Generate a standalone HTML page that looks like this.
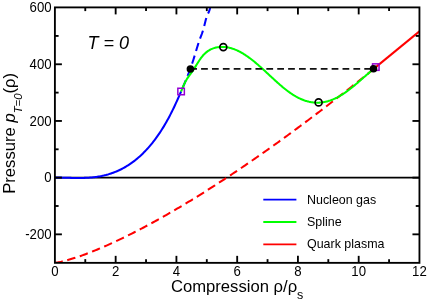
<!DOCTYPE html>
<html><head><meta charset="utf-8"><title>Pressure vs compression</title>
<style>
html,body{margin:0;padding:0;background:#fff;}
body{width:429px;height:301px;overflow:hidden;}
svg{display:block;font-family:"Liberation Sans",sans-serif;will-change:transform;}
text{fill:#000;}
</style></head><body>
<svg width="429" height="301" viewBox="0 0 429 301">
<defs><clipPath id="plot"><rect x="54.9" y="7.4" width="364.55" height="255.45000000000002"/></clipPath></defs>
<rect width="429" height="301" fill="#fff"/>
<g clip-path="url(#plot)" fill="none">
<!-- zero line -->
<line x1="54.9" y1="177.55" x2="419.45" y2="177.55" stroke="#000" stroke-width="1.7"/>
<!-- curves -->
<path d="M54.90,262.73 L56.51,262.56 L58.13,262.30 L59.74,262.00 L61.35,261.66 L62.96,261.28 L64.58,260.89 L66.19,260.47 L67.80,260.03 L69.41,259.57 L71.03,259.09 L72.64,258.60 L74.25,258.09 L75.86,257.57 L77.48,257.03 L79.09,256.48 L80.70,255.92 L82.31,255.35 L83.93,254.76 L85.54,254.17 L87.15,253.56 L88.76,252.95 L90.38,252.32 L91.99,251.69 L93.60,251.04 L95.21,250.39 L96.83,249.73 L98.44,249.06 L100.05,248.38 L101.66,247.69 L103.28,247.00 L104.89,246.30 L106.50,245.59 L108.11,244.87 L109.73,244.15 L111.34,243.42 L112.95,242.68 L114.56,241.93 L116.18,241.18 L117.79,240.42 L119.40,239.66 L121.02,238.89 L122.63,238.11 L124.24,237.32 L125.85,236.54 L127.47,235.74 L129.08,234.94 L130.69,234.13 L132.30,233.32 L133.92,232.50 L135.53,231.67 L137.14,230.84 L138.75,230.01 L140.37,229.17 L141.98,228.32 L143.59,227.47 L145.20,226.62 L146.82,225.75 L148.43,224.89 L150.04,224.02 L151.65,223.14 L153.27,222.26 L154.88,221.37 L156.49,220.48 L158.10,219.59 L159.72,218.69 L161.33,217.78 L162.94,216.87 L164.55,215.96 L166.17,215.04 L167.78,214.12 L169.39,213.19 L171.00,212.26 L172.62,211.33 L174.23,210.39 L175.84,209.44 L177.45,208.49 L179.07,207.54 L180.68,206.59 L182.29,205.62 L183.91,204.66 L185.52,203.69 L187.13,202.72 L188.74,201.74 L190.36,200.76 L191.97,199.78 L193.58,198.79 L195.19,197.80 L196.81,196.80 L198.42,195.80 L200.03,194.80 L201.64,193.79 L203.26,192.78 L204.87,191.77 L206.48,190.75 L208.09,189.73 L209.71,188.70 L211.32,187.67 L212.93,186.64 L214.54,185.61 L216.16,184.57 L217.77,183.53 L219.38,182.48 L220.99,181.43 L222.61,180.38 L224.22,179.32 L225.83,178.26 L227.44,177.20 L229.06,176.13 L230.67,175.06 L232.28,173.99 L233.89,172.92 L235.51,171.84 L237.12,170.75 L238.73,169.67 L240.34,168.58 L241.96,167.49 L243.57,166.39 L245.18,165.30 L246.79,164.19 L248.41,163.09 L250.02,161.98 L251.63,160.87 L253.25,159.76 L254.86,158.64 L256.47,157.52 L258.08,156.40 L259.70,155.28 L261.31,154.15 L262.92,153.02 L264.53,151.88 L266.15,150.75 L267.76,149.61 L269.37,148.46 L270.98,147.32 L272.60,146.17 L274.21,145.02 L275.82,143.87 L277.43,142.71 L279.05,141.55 L280.66,140.39 L282.27,139.22 L283.88,138.05 L285.50,136.88 L287.11,135.71 L288.72,134.53 L290.33,133.36 L291.95,132.18 L293.56,130.99 L295.17,129.80 L296.78,128.62 L298.40,127.42 L300.01,126.23 L301.62,125.03 L303.23,123.83 L304.85,122.63 L306.46,121.42 L308.07,120.22 L309.68,119.01 L311.30,117.80 L312.91,116.58 L314.52,115.36 L316.14,114.14 L317.75,112.92 L319.36,111.69 L320.97,110.47 L322.59,109.24 L324.20,108.00 L325.81,106.77 L327.42,105.53 L329.04,104.29 L330.65,103.05 L332.26,101.81 L333.87,100.56 L335.49,99.31 L337.10,98.06 L338.71,96.80 L340.32,95.55 L341.94,94.29 L343.55,93.03 L345.16,91.76 L346.77,90.50 L348.39,89.23 L350.00,87.96 L351.61,86.69 L353.22,85.41 L354.84,84.13 L356.45,82.85 L358.06,81.57 L359.67,80.29 L361.29,79.00 L362.90,77.71 L364.51,76.42 L366.12,75.13 L367.74,73.83 L369.35,72.53 L370.96,71.23 L372.57,69.93 L374.19,68.63 L375.80,67.32" stroke="#ff0000" stroke-width="2.05" stroke-dasharray="8.5 4.65" stroke-dashoffset="0.55"/>
<path d="M181.10,91.50 L181.59,90.35 L182.09,89.20 L182.58,88.03 L183.08,86.87 L183.57,85.70 L184.07,84.52 L184.56,83.33 L185.06,82.14 L185.55,80.94 L186.05,79.73 L186.54,78.51 L187.04,77.28 L187.53,76.04 L188.03,74.78 L188.52,73.51 L189.02,72.22 L189.51,70.91 L190.01,69.58 L190.50,68.23 L191.00,66.85 L191.49,65.45 L191.99,64.01 L192.48,62.54 L192.98,61.04 L193.47,59.50 L193.97,57.92 L194.46,56.32 L194.96,54.69 L195.45,53.04 L195.95,51.37 L196.44,49.71 L196.94,48.05 L197.43,46.43 L197.93,44.84 L198.42,43.30 L198.92,41.82 L199.41,40.40 L199.91,39.04 L200.40,37.72 L200.90,36.42 L201.39,35.11 L201.89,33.75 L202.38,32.31 L202.88,30.77 L203.37,29.10 L203.87,27.30 L204.36,25.39 L204.86,23.43 L205.35,21.47 L205.85,19.59 L206.34,17.85 L206.84,16.32 L207.33,15.02 L207.83,13.92 L208.32,12.94 L208.82,11.96 L209.31,10.73 L209.81,8.95 L210.30,6.17" stroke="#0000ff" stroke-width="2.05" stroke-dasharray="8.4 4.75" stroke-dashoffset="9.44"/>
<path d="M54.90,177.65 L55.96,177.63 L57.02,177.62 L58.08,177.62 L59.14,177.62 L60.20,177.63 L61.26,177.64 L62.32,177.66 L63.38,177.68 L64.44,177.70 L65.51,177.73 L66.57,177.76 L67.63,177.79 L68.69,177.81 L69.75,177.84 L70.81,177.87 L71.87,177.90 L72.93,177.92 L73.99,177.94 L75.05,177.96 L76.11,177.97 L77.17,177.98 L78.23,177.99 L79.29,177.99 L80.35,177.98 L81.41,177.97 L82.47,177.95 L83.53,177.93 L84.59,177.89 L85.65,177.85 L86.72,177.80 L87.78,177.75 L88.84,177.68 L89.90,177.60 L90.96,177.51 L92.02,177.42 L93.08,177.31 L94.14,177.19 L95.20,177.06 L96.26,176.91 L97.32,176.76 L98.38,176.59 L99.44,176.41 L100.50,176.21 L101.56,176.01 L102.62,175.78 L103.68,175.55 L104.74,175.29 L105.80,175.03 L106.86,174.74 L107.93,174.45 L108.99,174.13 L110.05,173.80 L111.11,173.45 L112.17,173.09 L113.23,172.71 L114.29,172.31 L115.35,171.89 L116.41,171.45 L117.47,170.99 L118.53,170.52 L119.59,170.02 L120.65,169.51 L121.71,168.97 L122.77,168.42 L123.83,167.84 L124.89,167.24 L125.95,166.62 L127.01,165.98 L128.07,165.32 L129.14,164.63 L130.20,163.92 L131.26,163.18 L132.32,162.42 L133.38,161.64 L134.44,160.83 L135.50,160.00 L136.56,159.14 L137.62,158.25 L138.68,157.34 L139.74,156.39 L140.80,155.43 L141.86,154.43 L142.92,153.40 L143.98,152.35 L145.04,151.26 L146.10,150.15 L147.16,149.00 L148.22,147.82 L149.28,146.61 L150.35,145.37 L151.41,144.09 L152.47,142.78 L153.53,141.44 L154.59,140.05 L155.65,138.64 L156.71,137.18 L157.77,135.69 L158.83,134.16 L159.89,132.59 L160.95,130.98 L162.01,129.32 L163.07,127.62 L164.13,125.88 L165.19,124.09 L166.25,122.25 L167.31,120.37 L168.37,118.43 L169.43,116.44 L170.49,114.40 L171.56,112.31 L172.62,110.16 L173.68,107.97 L174.74,105.73 L175.80,103.44 L176.86,101.11 L177.92,98.76 L178.98,96.36 L180.04,93.95 L181.10,91.50" stroke="#0000ff" stroke-width="2.05"/>
<path d="M181.10,91.50 L181.74,89.88 L182.39,88.30 L183.03,86.77 L183.67,85.30 L184.32,83.90 L184.96,82.58 L185.60,81.33 L186.25,80.17 L186.89,79.08 L187.53,78.06 L188.18,77.10 L188.82,76.19 L189.47,75.31 L190.11,74.45 L190.75,73.60 L191.40,72.73 L192.04,71.84 L192.68,70.92 L193.33,69.97 L193.97,68.97 L194.61,67.95 L195.26,66.91 L195.90,65.86 L196.54,64.80 L197.19,63.75 L197.83,62.71 L198.47,61.69 L199.12,60.70 L199.76,59.74 L200.40,58.82 L201.05,57.93 L201.69,57.09 L202.33,56.29 L202.98,55.53 L203.62,54.81 L204.27,54.14 L204.91,53.52 L205.55,52.93 L206.20,52.38 L206.84,51.86 L207.48,51.38 L208.13,50.93 L208.77,50.52 L209.41,50.13 L210.06,49.77 L210.70,49.44 L211.34,49.13 L211.99,48.85 L212.63,48.59 L213.27,48.36 L213.92,48.14 L214.56,47.95 L215.20,47.77 L215.85,47.62 L216.49,47.48 L217.13,47.35 L217.78,47.25 L218.42,47.16 L219.07,47.08 L219.71,47.02 L220.35,46.98 L221.00,46.95 L221.64,46.93 L222.28,46.92 L222.93,46.93 L223.57,46.96 L224.21,46.99 L224.86,47.04 L225.50,47.10 L226.14,47.18 L226.79,47.27 L227.43,47.37 L228.07,47.48 L228.72,47.61 L229.36,47.75 L230.00,47.91 L230.65,48.07 L231.29,48.25 L231.93,48.44 L232.58,48.65 L233.22,48.86 L233.87,49.09 L234.51,49.33 L235.15,49.59 L235.80,49.85 L236.44,50.13 L237.08,50.41 L237.73,50.71 L238.37,51.02 L239.01,51.34 L239.66,51.67 L240.30,52.02 L240.94,52.37 L241.59,52.73 L242.23,53.10 L242.87,53.49 L243.52,53.88 L244.16,54.28 L244.80,54.69 L245.45,55.11 L246.09,55.54 L246.73,55.98 L247.38,56.42 L248.02,56.88 L248.67,57.34 L249.31,57.81 L249.95,58.29 L250.60,58.77 L251.24,59.26 L251.88,59.76 L252.53,60.27 L253.17,60.78 L253.81,61.30 L254.46,61.82 L255.10,62.35 L255.74,62.89 L256.39,63.43 L257.03,63.98 L257.67,64.53 L258.32,65.09 L258.96,65.65 L259.60,66.21 L260.25,66.78 L260.89,67.36 L261.53,67.93 L262.18,68.51 L262.82,69.10 L263.47,69.68 L264.11,70.27 L264.75,70.86 L265.40,71.45 L266.04,72.05 L266.68,72.64 L267.33,73.24 L267.97,73.83 L268.61,74.43 L269.26,75.03 L269.90,75.63 L270.54,76.23 L271.19,76.82 L271.83,77.42 L272.47,78.02 L273.12,78.61 L273.76,79.20 L274.40,79.80 L275.05,80.38 L275.69,80.97 L276.33,81.55 L276.98,82.13 L277.62,82.71 L278.27,83.28 L278.91,83.85 L279.55,84.42 L280.20,84.98 L280.84,85.53 L281.48,86.08 L282.13,86.62 L282.77,87.16 L283.41,87.69 L284.06,88.22 L284.70,88.74 L285.34,89.25 L285.99,89.76 L286.63,90.25 L287.27,90.74 L287.92,91.23 L288.56,91.70 L289.20,92.17 L289.85,92.62 L290.49,93.07 L291.13,93.51 L291.78,93.94 L292.42,94.37 L293.07,94.78 L293.71,95.18 L294.35,95.58 L295.00,95.96 L295.64,96.34 L296.28,96.70 L296.93,97.05 L297.57,97.40 L298.21,97.73 L298.86,98.06 L299.50,98.37 L300.14,98.67 L300.79,98.96 L301.43,99.24 L302.07,99.51 L302.72,99.77 L303.36,100.02 L304.00,100.26 L304.65,100.48 L305.29,100.70 L305.93,100.90 L306.58,101.09 L307.22,101.28 L307.87,101.45 L308.51,101.61 L309.15,101.76 L309.80,101.89 L310.44,102.02 L311.08,102.14 L311.73,102.24 L312.37,102.33 L313.01,102.42 L313.66,102.49 L314.30,102.55 L314.94,102.59 L315.59,102.63 L316.23,102.66 L316.87,102.67 L317.52,102.67 L318.16,102.67 L318.80,102.65 L319.45,102.62 L320.09,102.58 L320.73,102.52 L321.38,102.46 L322.02,102.38 L322.67,102.30 L323.31,102.20 L323.95,102.09 L324.60,101.97 L325.24,101.84 L325.88,101.70 L326.53,101.55 L327.17,101.39 L327.81,101.21 L328.46,101.03 L329.10,100.83 L329.74,100.62 L330.39,100.41 L331.03,100.18 L331.67,99.94 L332.32,99.69 L332.96,99.43 L333.60,99.15 L334.25,98.87 L334.89,98.58 L335.53,98.28 L336.18,97.96 L336.82,97.64 L337.47,97.31 L338.11,96.96 L338.75,96.61 L339.40,96.25 L340.04,95.87 L340.68,95.49 L341.33,95.10 L341.97,94.70 L342.61,94.29 L343.26,93.87 L343.90,93.45 L344.54,93.01 L345.19,92.57 L345.83,92.12 L346.47,91.66 L347.12,91.19 L347.76,90.72 L348.40,90.24 L349.05,89.75 L349.69,89.26 L350.33,88.76 L350.98,88.25 L351.62,87.74 L352.27,87.22 L352.91,86.70 L353.55,86.17 L354.20,85.63 L354.84,85.10 L355.48,84.55 L356.13,84.01 L356.77,83.46 L357.41,82.91 L358.06,82.35 L358.70,81.79 L359.34,81.23 L359.99,80.67 L360.63,80.11 L361.27,79.55 L361.92,78.98 L362.56,78.42 L363.20,77.85 L363.85,77.29 L364.49,76.73 L365.13,76.16 L365.78,75.60 L366.42,75.05 L367.07,74.49 L367.71,73.94 L368.35,73.39 L369.00,72.85 L369.64,72.31 L370.28,71.77 L370.93,71.24 L371.57,70.72 L372.21,70.20 L372.86,69.69 L373.50,69.18" stroke="#00ff00" stroke-width="2.05"/>
<path d="M375.80,67.10 L419.45,31.30" stroke="#ff0000" stroke-width="2.05"/>
<rect x="372.55" y="63.849999999999994" width="6.5" height="6.5" stroke="#9400d3" stroke-width="1.5"/>
<line x1="190.2" y1="68.9" x2="373.5" y2="68.9" stroke="#111" stroke-width="1.75" stroke-dasharray="6.75 4.13"/>
<!-- markers -->
<rect x="177.85" y="88.25" width="6.5" height="6.5" stroke="#9400d3" stroke-width="1.5"/>
<circle cx="223.3" cy="47.1" r="3.5" stroke="#000" stroke-width="1.6"/>
<circle cx="318.6" cy="102.4" r="3.5" stroke="#000" stroke-width="1.6"/>
<circle cx="190.39999999999998" cy="69.0" r="3.8" fill="#000"/>
<circle cx="373.5" cy="68.8" r="3.8" fill="#000"/>
</g>
<!-- frame -->
<g stroke="#000" stroke-width="1.85" fill="none">
<rect x="54.9" y="7.4" width="364.55" height="255.45000000000002"/>
<line x1="85.28" y1="262.85" x2="85.28" y2="259.15000000000003"/><line x1="85.28" y1="7.4" x2="85.28" y2="11.100000000000001"/><line x1="115.66" y1="262.85" x2="115.66" y2="255.85000000000002"/><line x1="115.66" y1="7.4" x2="115.66" y2="14.4"/><line x1="146.04" y1="262.85" x2="146.04" y2="259.15000000000003"/><line x1="146.04" y1="7.4" x2="146.04" y2="11.100000000000001"/><line x1="176.42" y1="262.85" x2="176.42" y2="255.85000000000002"/><line x1="176.42" y1="7.4" x2="176.42" y2="14.4"/><line x1="206.80" y1="262.85" x2="206.80" y2="259.15000000000003"/><line x1="206.80" y1="7.4" x2="206.80" y2="11.100000000000001"/><line x1="237.18" y1="262.85" x2="237.18" y2="255.85000000000002"/><line x1="237.18" y1="7.4" x2="237.18" y2="14.4"/><line x1="267.55" y1="262.85" x2="267.55" y2="259.15000000000003"/><line x1="267.55" y1="7.4" x2="267.55" y2="11.100000000000001"/><line x1="297.93" y1="262.85" x2="297.93" y2="255.85000000000002"/><line x1="297.93" y1="7.4" x2="297.93" y2="14.4"/><line x1="328.31" y1="262.85" x2="328.31" y2="259.15000000000003"/><line x1="328.31" y1="7.4" x2="328.31" y2="11.100000000000001"/><line x1="358.69" y1="262.85" x2="358.69" y2="255.85000000000002"/><line x1="358.69" y1="7.4" x2="358.69" y2="14.4"/><line x1="389.07" y1="262.85" x2="389.07" y2="259.15000000000003"/><line x1="389.07" y1="7.4" x2="389.07" y2="11.100000000000001"/><line x1="54.9" y1="234.34" x2="61.9" y2="234.34"/><line x1="419.45" y1="234.34" x2="412.45" y2="234.34"/><line x1="54.9" y1="205.99" x2="58.6" y2="205.99"/><line x1="419.45" y1="205.99" x2="415.75" y2="205.99"/><line x1="54.9" y1="177.65" x2="61.9" y2="177.65"/><line x1="419.45" y1="177.65" x2="412.45" y2="177.65"/><line x1="54.9" y1="149.31" x2="58.6" y2="149.31"/><line x1="419.45" y1="149.31" x2="415.75" y2="149.31"/><line x1="54.9" y1="120.96" x2="61.9" y2="120.96"/><line x1="419.45" y1="120.96" x2="412.45" y2="120.96"/><line x1="54.9" y1="92.62" x2="58.6" y2="92.62"/><line x1="419.45" y1="92.62" x2="415.75" y2="92.62"/><line x1="54.9" y1="64.27" x2="61.9" y2="64.27"/><line x1="419.45" y1="64.27" x2="412.45" y2="64.27"/><line x1="54.9" y1="35.93" x2="58.6" y2="35.93"/><line x1="419.45" y1="35.93" x2="415.75" y2="35.93"/>
</g>
<!-- labels -->
<g font-size="13.2"><text transform="translate(54.90,276.2) scale(1,1.06)" text-anchor="middle">0</text><text transform="translate(115.66,276.2) scale(1,1.06)" text-anchor="middle">2</text><text transform="translate(176.42,276.2) scale(1,1.06)" text-anchor="middle">4</text><text transform="translate(237.18,276.2) scale(1,1.06)" text-anchor="middle">6</text><text transform="translate(297.93,276.2) scale(1,1.06)" text-anchor="middle">8</text><text transform="translate(358.69,276.2) scale(1,1.06)" text-anchor="middle">10</text><text transform="translate(419.45,276.2) scale(1,1.06)" text-anchor="middle">12</text><text transform="translate(51.6,12.33) scale(1,1.06)" text-anchor="end">600</text><text transform="translate(51.6,69.02) scale(1,1.06)" text-anchor="end">400</text><text transform="translate(51.6,125.71) scale(1,1.06)" text-anchor="end">200</text><text transform="translate(51.6,182.40) scale(1,1.06)" text-anchor="end">0</text><text transform="translate(51.6,239.09) scale(1,1.06)" text-anchor="end">-200</text></g>
<text x="87.6" y="49.4" font-size="18" font-style="italic">T = 0</text>
<text x="170.9" y="292.0" font-size="16.65">Compression ρ/ρ<tspan font-size="12.5" dy="7.4">s</tspan></text>
<text transform="translate(14.8,193.8) rotate(-90)" font-size="16.65">Pressure <tspan font-style="italic">p</tspan><tspan font-size="11.3" font-style="italic" dy="7.2">T=0</tspan><tspan dy="-7.2">(ρ)</tspan></text>
<!-- legend -->
<g stroke-width="1.8">
<line x1="263.3" y1="199.6" x2="296.4" y2="199.6" stroke="#0000ff"/>
<line x1="263.3" y1="222.0" x2="296.4" y2="222.0" stroke="#00ff00"/>
<line x1="263.3" y1="244.4" x2="296.4" y2="244.4" stroke="#ff0000"/>
</g>
<g font-size="12.45">
<text transform="translate(307,203.5) scale(1,1.05)">Nucleon gas</text>
<text transform="translate(307,225.9) scale(1,1.05)">Spline</text>
<text transform="translate(307,248.3) scale(1,1.05)">Quark plasma</text>
</g>
</svg>
</body></html>
